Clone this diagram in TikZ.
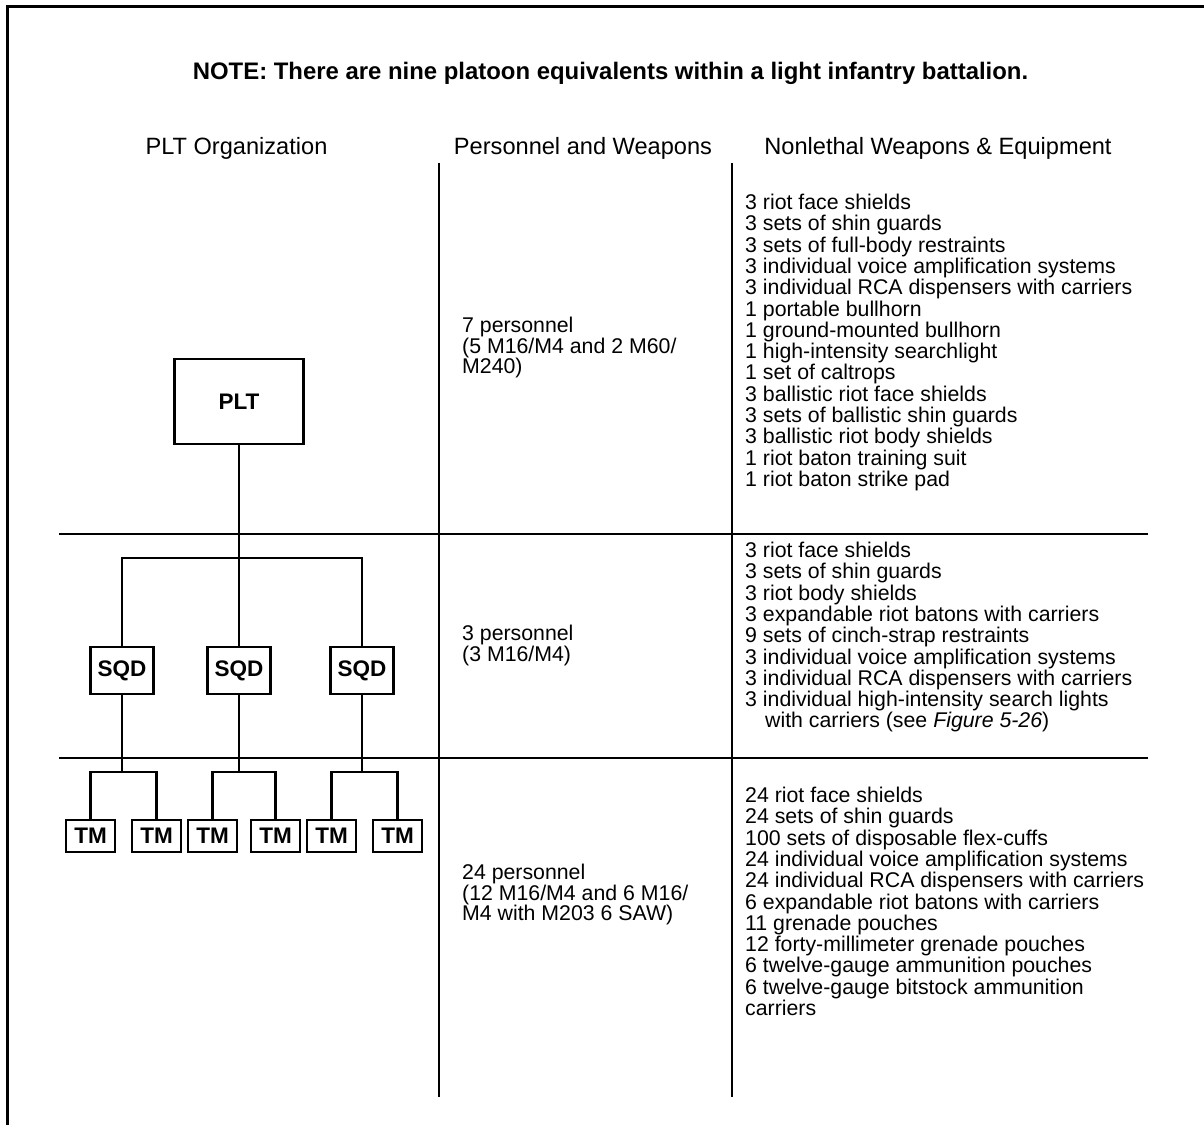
\documentclass[tikz,border=0pt]{standalone}
\usepackage{fontspec}
\setmainfont{Liberation Sans}
\begin{document}
\begin{tikzpicture}[x=1pt,y=-1pt,
  frame/.style={line width=3.2pt},
  rulel/.style={line width=2.3pt},
  conn/.style={line width=2.3pt},
  orgbox/.style={draw, line width=2.3pt, inner sep=0pt, font=\fontsize{22.5}{22.5}\selectfont\bfseries},
  pltbox/.style={orgbox, minimum width=129pt, minimum height=85pt},
  sqdbox/.style={orgbox, minimum width=63pt, minimum height=47pt},
  tmbox/.style={orgbox, minimum width=49pt, minimum height=32pt},
  head/.style={inner sep=0pt, anchor=base, font=\fontsize{23.6}{23.6}\selectfont},
  note/.style={inner sep=0pt, anchor=base, font=\fontsize{23.9}{23.9}\selectfont\bfseries},
  listtxt/.style={inner sep=0pt, anchor=base west, align=left, font=\fontsize{21.3}{21.3}\selectfont},
  perstxt/.style={inner sep=0pt, anchor=base west, align=left, font=\fontsize{21.3}{20.7}\selectfont}]
\useasboundingbox (0,0) rectangle (1204,1124);
% frame
\draw[frame] (7.5,1130) -- (7.5,6.3) -- (1210,6.3);
% title and headers
\node[note] (title) at (610.5,79.6) {NOTE: There are nine platoon equivalents within a light infantry battalion.};
\node[head] (h1) at (236.5,154.5) {PLT Organization};
\node[head] (h2) at (583,154.5) {Personnel and Weapons};
\node[head] (h3) at (938,154.5) {Nonlethal Weapons \& Equipment};
% table rules
\draw[rulel] (59,534) -- (1148,534);
\draw[rulel] (59,758) -- (1148,758);
\draw[rulel] (439,163) -- (439,1097);
\draw[rulel] (732,163) -- (732,1097);
% org chart
\node[pltbox] (plt) at (239,401.5) {PLT};
\node[sqdbox] (s1) at (122,670.5) {SQD};
\node[sqdbox] (s2) at (239,670.5) {SQD};
\node[sqdbox] (s3) at (362,670.5) {SQD};
\coordinate (sbar) at (239,558);
\draw[conn] (plt.south) -- (s2.north);
\draw[conn] (s1.north) -- (s1.north |- sbar) -- (s3.north |- sbar) -- (s3.north);
\node[tmbox] (t1) at (90.5,836) {TM};
\node[tmbox] (t2) at (156.5,836) {TM};
\node[tmbox] (t3) at (212.5,836) {TM};
\node[tmbox] (t4) at (275.5,836) {TM};
\node[tmbox] (t5) at (331.5,836) {TM};
\node[tmbox] (t6) at (397.5,836) {TM};
\coordinate (ba) at (122,772);
\coordinate (bb) at (239,772);
\coordinate (bc) at (362,772);
\draw[conn] (s1.south) -- (ba);
\draw[conn] (s2.south) -- (bb);
\draw[conn] (s3.south) -- (bc);
\draw[conn] (t1.north) |- (ba) -| (t2.north);
\draw[conn] (t3.north) |- (bb) -| (t4.north);
\draw[conn] (t5.north) |- (bc) -| (t6.north);
% personnel column (anchored at the baseline of the last line)
\node[perstxt] (p1) at (462,373.9) {7 personnel\\(5 M16/M4 and 2 M60/\\M240)};
\node[perstxt] (p2) at (462,661.2) {3 personnel\\(3 M16/M4)};
\node[perstxt] (p3) at (462,920.9) {24 personnel\\(12 M16/M4 and 6 M16/\\M4 with M203 6 SAW)};
% equipment column (anchored at the baseline of the last line)
\node[listtxt] (e1) at (745,486.4) {3 riot face shields\\3 sets of shin guards\\3 sets of full-body restraints\\3 individual voice amplification systems\\3 individual RCA dispensers with carriers\\1 portable bullhorn\\1 ground-mounted bullhorn\\1 high-intensity searchlight\\1 set of caltrops\\3 ballistic riot face shields\\3 sets of ballistic shin guards\\3 ballistic riot body shields\\1 riot baton training suit\\1 riot baton strike pad};
\node[listtxt] (e2) at (745,727.9) {3 riot face shields\\3 sets of shin guards\\3 riot body shields\\3 expandable riot batons with carriers\\9 sets of cinch-strap restraints\\3 individual voice amplification systems\\3 individual RCA dispensers with carriers\\3 individual high-intensity search lights\\\hspace*{20pt}with carriers (see \textit{Figure 5-26})};
\node[listtxt] (e3) at (745,1015.5) {24 riot face shields\\24 sets of shin guards\\100 sets of disposable flex-cuffs\\24 individual voice amplification systems\\24 individual RCA dispensers with carriers\\6 expandable riot batons with carriers\\11 grenade pouches\\12 forty-millimeter grenade pouches\\6 twelve-gauge ammunition pouches\\6 twelve-gauge bitstock ammunition\\carriers};
\end{tikzpicture}
\end{document}
